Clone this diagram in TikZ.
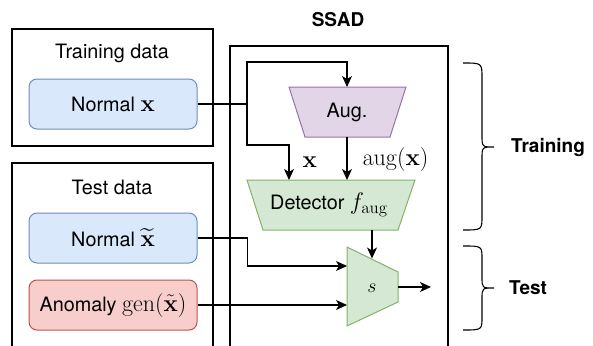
\RequirePackage{fix-cm}
\documentclass[tikz,border=0pt]{standalone}
\usepackage{amsmath}
\usepackage[no-math]{fontspec}
\setmainfont{TeX Gyre Heros}
\usetikzlibrary{arrows.meta}
\definecolor{bluef}{HTML}{DAE8FC}
\definecolor{bluel}{HTML}{6C8EBF}
\definecolor{redf}{HTML}{F8CECC}
\definecolor{redl}{HTML}{B85450}
\definecolor{purf}{HTML}{E1D5E7}
\definecolor{purl}{HTML}{9673A6}
\definecolor{grnf}{HTML}{D5E8D4}
\definecolor{grnl}{HTML}{82B366}
\newcommand{\bigmth}[1]{{\fontsize{24}{26}\selectfont$#1$}}
\begin{document}
\begin{tikzpicture}[x=1pt,y=-1pt,
  every node/.style={font=\fontsize{19.8}{22}\selectfont, inner sep=0pt},
  frame/.style={draw=black, line width=1.1pt},
  databox/.style={rounded corners=8pt, minimum width=168pt, minimum height=50pt, line width=1pt},
  normalbox/.style={databox, fill=bluef, draw=bluel},
  anombox/.style={databox, fill=redf, draw=redl},
  augshape/.style={fill=purf, draw=purl, line width=1pt},
  grnshape/.style={fill=grnf, draw=grnl, line width=1pt},
  conn/.style={draw=black, line width=1.2pt},
  arr/.style={conn, -{Stealth[length=11pt,width=10pt,inset=3pt]}},
  boldlbl/.style={font=\fontsize{19}{22}\selectfont\bfseries},
  bracestyle/.style={draw=black, line width=1.1pt}
]
\useasboundingbox (0,0) rectangle (593,345);
\clip (0,0) rectangle (593,345);

% Training data
\draw[frame] (12,29) rectangle (213,146);
\node (trainT) at (112,53) {Training data};
\node[normalbox] (nx) at (113,104) {Normal \bigmth{\mathbf{x}}};

% Test data
\draw[frame] (12,352) |- (213,163) -- (213,352);
\node (testT) at (112,187) {Test data};
\node[normalbox] (nxt) at (113,238) {Normal \bigmth{\widetilde{\mathbf{x}}}};
\node[anombox] (an) at (113,305) {Anomaly \bigmth{\mathrm{gen}(\tilde{\mathbf{x}})}};

% SSAD
\node[boldlbl] (ssadT) at (338,20) {SSAD};
\draw[frame] (230,352) |- (448,46) -- (448,352);

% Aug
\draw[augshape] (289,87) -- (406,87) -- (390,137) -- (305,137) -- cycle;
\node (aug) at (347,112) {Aug.};
\coordinate (augT) at (347,87);
\coordinate (augB) at (347,137);

% Detector
\draw[grnshape] (247,180) -- (415,180) -- (398,230) -- (263,230) -- cycle;
\node (det) at (329,205) {Detector \bigmth{f_{\mathrm{aug}}}};
\coordinate (detTL) at (289,180);
\coordinate (detTR) at (347,180);
\coordinate (detB) at (372,230);

% s
\draw[grnshape] (347,247) -- (398,272) -- (398,302) -- (347,326) -- cycle;
\node (s) at (372,288) {$s$};
\coordinate (sTop) at (372,258.5);
\coordinate (sIn1) at (347,266);
\coordinate (sIn2) at (347,305);
\coordinate (sOut) at (398,287);
\coordinate (out) at (431,287);

% connectors
\coordinate (j1) at (247,104);
\draw[conn] (nx.east) -- (j1);
\draw[arr] (j1) |- ([yshift=25pt]augT) -- (augT);
\draw[arr] (j1) |- ([yshift=35pt]detTL) -- node[pos=0.5, right=13pt] (xl) {\bigmth{\mathbf{x}}} (detTL);
\draw[arr] (augB) -- node[pos=0.52, right=15pt] (augl) {\bigmth{\mathrm{aug}(\mathbf{x})}} (detTR);
\draw[arr] (detB) -- (sTop);
\draw[arr] (nxt.east) -- ++(50,0) |- (sIn1);
\draw[arr] (an.east) -- (sIn2);
\draw[arr] (sOut) -- (out);

% braces
\draw[bracestyle] (463,63) .. controls (482,63) .. (482,78) -- (482,135)
  .. controls (482,147) .. (494,147) .. controls (482,147) .. (482,159)
  -- (482,216) .. controls (482,230) .. (463,230);
\node[boldlbl, anchor=west] (trL) at (511,147) {Training};
\draw[bracestyle] (463,246) .. controls (482,246) .. (482,259) -- (482,277)
  .. controls (482,288) .. (494,288) .. controls (482,288) .. (482,299)
  -- (482,317) .. controls (482,330) .. (463,330);
\node[boldlbl, anchor=west] (teL) at (509,288) {Test};
\end{tikzpicture}
\end{document}
